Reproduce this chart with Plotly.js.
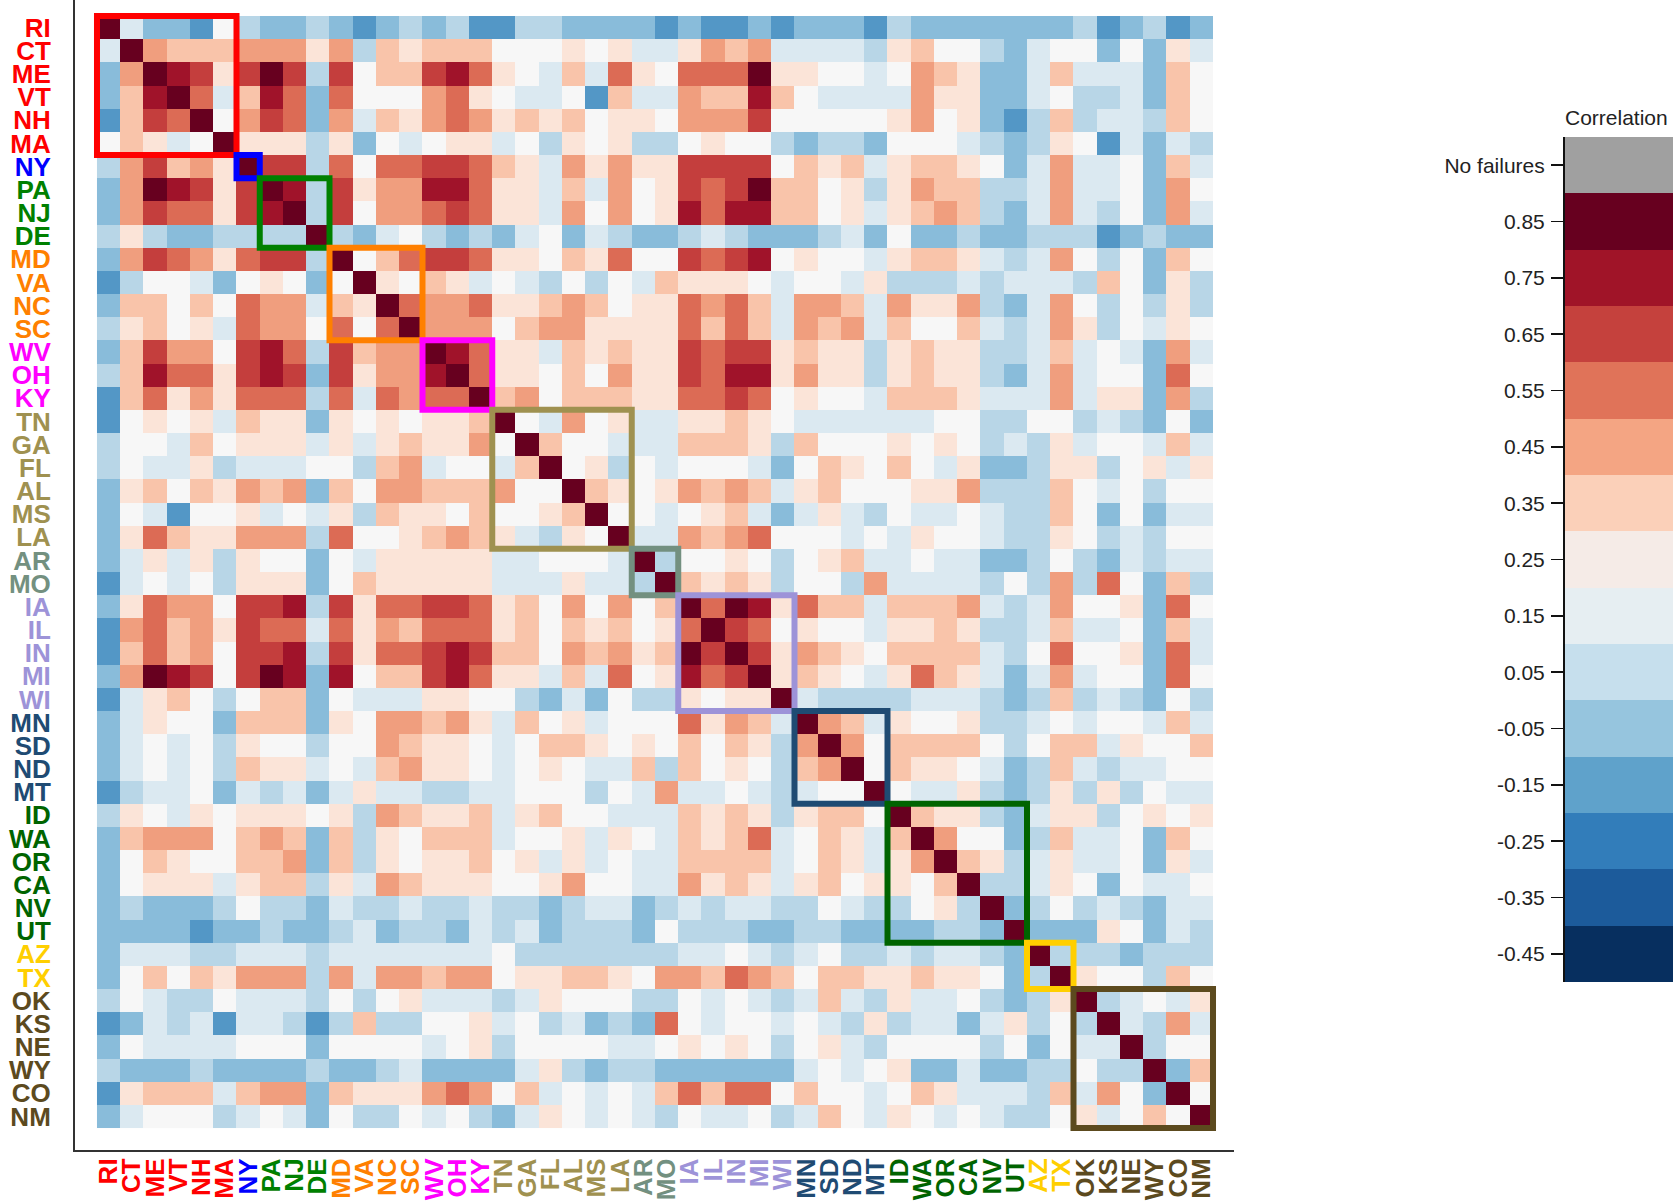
<!DOCTYPE html>
<html><head><meta charset="utf-8">
<script src="https://cdn.plot.ly/plotly-3.0.1.min.js"></script>
<style>html,body{margin:0;padding:0;background:#fff;}#chart{width:1673px;height:1203px;}</style>
</head><body><div id="chart"></div>
<script>
// ---------- DATA ----------
const states = ['RI','CT','ME','VT','NH','MA','NY','PA','NJ','DE','MD','VA','NC','SC','WV','OH','KY',
  'TN','GA','FL','AL','MS','LA','AR','MO','IA','IL','IN','MI','WI','MN','SD','ND','MT',
  'ID','WA','OR','CA','NV','UT','AZ','TX','OK','KS','NE','WY','CO','NM'];
const regionSizes = [6,1,3,4,3,6,2,5,4,6,2,6];

// lower triangle of the correlation matrix (row i: columns 0..i)
const corrLower = [
[0.85],
[0.05,0.85],
[-0.15,0.45,0.85],
[-0.15,0.35,0.75,0.85],
[-0.25,0.35,0.65,0.55,0.85],
[0.15,0.35,0.25,0.05,0.15,0.85],
[-0.05,0.45,0.65,0.35,0.45,0.25,0.85],
[-0.15,0.45,0.85,0.75,0.65,0.25,0.65,0.85],
[-0.15,0.45,0.65,0.55,0.55,0.25,0.65,0.75,0.85],
[-0.05,0.25,-0.05,-0.15,-0.15,-0.05,-0.05,-0.05,-0.05,0.85],
[-0.15,0.45,0.65,0.55,0.45,0.25,0.55,0.65,0.65,-0.05,0.85],
[-0.25,-0.05,0.15,0.15,0.05,-0.15,0.15,0.25,0.15,-0.15,0.15,0.85],
[-0.15,0.35,0.35,0.15,0.35,0.15,0.55,0.45,0.45,0.05,0.35,0.25,0.85],
[-0.05,0.25,0.35,0.15,0.25,0.05,0.55,0.45,0.45,0.15,0.55,0.15,0.55,0.85],
[-0.15,0.35,0.65,0.45,0.45,0.15,0.65,0.75,0.55,-0.05,0.65,0.35,0.45,0.45,0.85],
[-0.05,0.35,0.75,0.55,0.55,0.25,0.65,0.75,0.65,-0.15,0.65,0.25,0.45,0.45,0.75,0.85],
[-0.25,0.35,0.55,0.25,0.45,0.25,0.55,0.55,0.55,-0.05,0.55,0.05,0.55,0.45,0.55,0.55,0.85],
[-0.25,0.15,0.25,0.15,0.25,0.05,0.35,0.25,0.25,-0.15,0.25,0.15,0.25,0.15,0.25,0.25,0.35,0.85],
[-0.05,0.15,0.15,0.05,0.35,0.15,0.25,0.25,0.25,0.05,0.25,0.05,0.25,0.35,0.25,0.25,0.45,0.15,0.85],
[-0.05,0.15,0.05,0.05,0.25,-0.05,0.05,0.05,0.05,0.15,0.15,-0.05,0.35,0.45,0.05,0.15,0.15,0.05,0.35,0.85],
[-0.15,0.25,0.35,0.15,0.35,0.25,0.45,0.35,0.45,-0.15,0.35,0.15,0.45,0.45,0.35,0.35,0.35,0.45,0.15,0.15,0.85],
[-0.15,0.15,0.05,-0.25,0.15,0.15,0.25,0.05,0.15,0.05,0.25,-0.05,0.35,0.25,0.25,0.15,0.35,0.15,0.15,0.25,0.35,0.85],
[-0.15,0.25,0.55,0.35,0.25,0.25,0.45,0.45,0.45,-0.05,0.55,0.15,0.15,0.25,0.35,0.45,0.35,0.25,0.05,-0.05,0.25,0.15,0.85],
[-0.15,0.05,0.25,0.05,0.25,-0.05,0.25,0.15,0.15,-0.15,0.15,0.05,0.25,0.25,0.25,0.25,0.25,0.05,0.05,0.15,0.15,0.15,0.05,0.85],
[-0.25,0.05,0.15,0.05,0.15,-0.05,0.25,0.25,0.25,-0.15,0.15,0.35,0.25,0.25,0.25,0.25,0.25,0.05,0.05,0.05,0.25,0.05,0.05,-0.05,0.85],
[-0.15,0.25,0.55,0.45,0.45,0.15,0.65,0.65,0.75,-0.05,0.65,0.25,0.55,0.55,0.65,0.65,0.55,0.25,0.35,0.15,0.45,0.15,0.45,0.15,0.35,0.85],
[-0.25,0.45,0.55,0.35,0.45,0.25,0.65,0.55,0.55,0.05,0.55,0.25,0.45,0.35,0.55,0.55,0.55,0.25,0.35,0.15,0.35,0.25,0.35,0.15,0.25,0.55,0.85],
[-0.25,0.35,0.55,0.35,0.45,0.15,0.65,0.65,0.75,-0.05,0.65,0.25,0.55,0.55,0.65,0.75,0.65,0.35,0.35,0.15,0.45,0.35,0.45,0.25,0.35,0.85,0.65,0.85],
[-0.15,0.45,0.85,0.75,0.65,0.15,0.65,0.85,0.75,-0.15,0.75,0.15,0.35,0.35,0.65,0.75,0.55,0.25,0.25,0.05,0.35,0.05,0.55,0.15,0.25,0.75,0.55,0.65,0.85],
[-0.25,0.05,0.25,0.35,0.15,-0.05,0.15,0.35,0.35,-0.15,0.15,0.05,0.05,0.05,0.25,0.25,0.15,0.15,-0.05,-0.15,0.05,-0.15,0.15,-0.05,-0.05,0.25,0.15,0.25,0.25,0.85],
[-0.15,0.05,0.25,0.15,0.15,-0.15,0.35,0.35,0.35,-0.15,0.25,0.15,0.45,0.45,0.35,0.45,0.25,0.05,0.35,0.15,0.25,0.05,0.15,0.15,0.15,0.55,0.25,0.45,0.35,0.05,0.85],
[-0.15,0.05,0.15,0.05,0.15,-0.05,0.25,0.15,0.15,-0.05,0.15,0.15,0.45,0.35,0.25,0.25,0.15,0.05,0.15,0.35,0.35,0.25,0.15,0.25,0.15,0.35,0.15,0.35,0.25,-0.05,0.45,0.85],
[-0.15,0.05,0.15,0.05,0.15,-0.05,0.35,0.25,0.25,0.05,0.15,0.05,0.35,0.45,0.25,0.25,0.15,0.05,0.15,0.25,0.15,0.05,0.05,0.35,-0.05,0.35,0.15,0.25,0.15,-0.05,0.35,0.45,0.85],
[-0.25,-0.05,0.05,0.05,0.15,-0.15,0.05,-0.05,0.05,-0.15,0.05,0.25,0.05,0.05,-0.05,-0.05,0.05,0.05,0.15,0.15,0.15,-0.05,0.15,0.05,0.45,0.05,0.05,0.15,0.05,-0.05,0.05,0.15,0.15,0.85],
[-0.05,0.25,0.15,0.05,0.25,0.15,0.25,0.25,0.25,0.15,0.25,-0.05,0.45,0.35,0.25,0.25,0.35,0.05,0.25,0.35,0.15,0.15,0.05,0.05,0.05,0.35,0.25,0.35,0.25,-0.05,0.25,0.35,0.35,0.15,0.85],
[-0.15,0.35,0.45,0.45,0.45,0.15,0.35,0.45,0.35,-0.15,0.35,-0.05,0.25,0.15,0.35,0.35,0.35,0.05,0.15,0.15,0.25,0.05,0.25,0.15,0.05,0.35,0.25,0.35,0.55,0.05,0.15,0.35,0.25,0.05,0.35,0.85],
[-0.15,0.15,0.35,0.25,0.15,0.15,0.35,0.35,0.45,-0.15,0.35,-0.05,0.25,0.15,0.25,0.25,0.35,0.15,0.25,0.05,0.25,0.05,0.15,0.05,0.05,0.35,0.35,0.35,0.35,0.05,0.15,0.35,0.25,0.05,0.25,0.45,0.85],
[-0.15,0.15,0.25,0.25,0.25,0.05,0.25,0.35,0.35,-0.05,0.25,0.05,0.45,0.35,0.25,0.25,0.25,0.15,0.15,0.25,0.45,0.15,0.15,0.05,0.05,0.45,0.25,0.35,0.25,0.05,0.25,0.35,0.15,0.25,0.25,0.15,0.35,0.85],
[-0.15,-0.05,-0.15,-0.15,-0.15,-0.05,0.15,-0.05,-0.05,-0.15,0.05,-0.05,-0.05,0.05,-0.05,-0.05,0.05,-0.05,-0.05,-0.15,-0.05,0.05,0.05,-0.15,-0.05,0.05,-0.05,0.05,0.05,-0.05,-0.05,0.15,0.05,-0.05,-0.05,0.15,0.25,-0.05,0.85],
[-0.15,-0.15,-0.15,-0.15,-0.25,-0.15,-0.15,-0.05,-0.15,-0.15,-0.05,0.05,-0.15,-0.05,-0.05,-0.15,0.05,-0.05,0.05,-0.15,-0.05,-0.05,-0.05,-0.15,0.15,-0.05,-0.05,-0.05,-0.15,-0.15,-0.05,-0.05,-0.15,-0.15,-0.15,-0.15,-0.05,-0.05,-0.15,0.85],
[-0.15,0.05,0.05,0.05,-0.05,-0.05,0.05,0.05,0.05,-0.05,0.05,0.05,0.05,0.05,0.05,0.05,0.05,0.15,-0.05,-0.05,-0.05,-0.05,-0.05,-0.05,-0.05,0.05,0.05,0.15,0.05,-0.05,0.05,0.15,-0.05,-0.05,0.05,-0.05,0.05,0.05,-0.05,-0.15,0.85],
[-0.15,0.15,0.35,0.15,0.35,0.25,0.45,0.45,0.45,-0.05,0.45,0.05,0.45,0.45,0.35,0.45,0.45,0.15,0.25,0.25,0.35,0.35,0.25,0.15,0.45,0.45,0.35,0.55,0.45,0.35,0.15,0.35,0.35,0.25,0.25,0.35,0.25,0.25,0.15,-0.15,-0.05,0.85],
[-0.05,0.15,0.05,-0.05,-0.05,0.15,0.05,0.05,0.05,-0.05,0.15,-0.05,0.15,0.25,0.05,0.05,0.05,-0.05,0.05,0.25,0.15,0.15,0.15,-0.05,-0.05,0.15,0.05,0.15,0.05,-0.05,0.05,0.35,0.05,-0.05,0.25,0.05,0.05,0.15,-0.05,-0.15,-0.05,0.25,0.85],
[-0.25,-0.15,0.05,-0.05,0.05,-0.25,0.05,0.05,-0.05,-0.25,-0.05,0.35,-0.05,-0.05,0.15,0.15,0.25,0.05,0.15,-0.05,0.05,-0.15,-0.05,-0.15,0.55,0.15,0.05,0.15,0.15,0.05,0.15,0.05,-0.05,0.25,-0.05,0.05,0.05,-0.15,0.05,0.25,-0.05,0.15,-0.05,0.85],
[-0.15,0.15,0.05,0.05,0.05,0.05,0.15,0.15,0.15,-0.15,0.15,0.15,0.15,0.15,0.05,0.15,0.25,-0.05,0.15,0.15,0.15,0.15,0.05,0.05,0.15,0.25,0.15,0.25,0.15,-0.05,0.15,0.25,0.05,-0.05,0.15,0.15,0.15,0.15,-0.05,0.15,-0.15,0.15,0.05,0.05,0.85],
[-0.05,-0.15,-0.15,-0.15,-0.05,-0.15,-0.15,-0.15,-0.15,-0.05,-0.15,-0.15,-0.05,0.05,-0.15,-0.15,-0.15,-0.15,0.05,0.25,-0.05,-0.15,-0.05,-0.05,-0.15,-0.15,-0.15,-0.15,-0.15,-0.15,0.05,0.15,0.05,0.15,0.25,-0.15,-0.15,0.05,-0.15,-0.15,-0.05,-0.05,0.15,-0.05,-0.05,0.85],
[-0.25,0.25,0.35,0.35,0.35,0.05,0.35,0.45,0.45,-0.15,0.35,0.25,0.25,0.25,0.45,0.55,0.45,0.15,0.35,0.05,0.15,0.05,0.15,0.05,0.35,0.55,0.35,0.55,0.55,0.15,0.35,0.15,0.15,0.05,0.15,0.35,0.25,0.05,0.05,0.05,-0.05,0.35,0.05,0.45,0.15,-0.15,0.85],
[-0.15,0.05,0.15,0.15,0.15,-0.05,0.05,0.15,0.05,-0.15,0.15,-0.05,-0.05,0.15,0.05,0.15,-0.05,-0.15,0.05,0.25,0.15,0.05,0.15,0.05,-0.05,0.15,0.05,0.05,0.15,-0.05,0.05,0.35,0.15,0.05,0.25,0.15,0.05,0.15,0.05,-0.05,-0.05,0.15,0.25,0.05,0.15,0.35,0.15,0.85]
];

// colour-key bins (bin centres) and their labels
const legendLevels = [-0.45,-0.35,-0.25,-0.15,-0.05,0.05,0.15,0.25,0.35,0.45,0.55,0.65,0.75,0.85,0.95];
const legendLabels = ['-0.45','-0.35','-0.25','-0.15','-0.05','0.05','0.15','0.25','0.35','0.45','0.55','0.65','0.75','0.85','No failures'];

// ---------- STYLE ----------
const regionColors = ['#ff0000','#0000ff','#008000','#ff8000','#ff00ff','#9f9150','#739080','#9d93d8','#1f4b73','#006400','#ffcf00','#5c4a1e'];
const cellColors = ['#053061','#2166ac','#5397c6','#89bcda','#b8d6e7','#dbe9f1','#f7f7f7','#fbe4d8','#f9c4aa','#f09e7e','#dc6b55','#c43e3d','#a0132a','#67001f','#a0a0a0'];
const barColors  = ['#072f5f','#1c5b9b','#327dba','#5fa2cb','#96c5de','#c6dfed','#e6eef2','#f5ebe7','#fbd0b9','#f4a583','#e07359','#c5413d','#a01428','#67001f','#a0a0a0'];
const ZMIN = -0.5, ZMAX = 1.0;

function stepScale(colors){
  const n = colors.length, s = [];
  colors.forEach((c,i)=>{ s.push([i/n,c]); s.push([(i+1)/n,c]); });
  return s;
}

const N = states.length;
const z = [];
for (let i=0;i<N;i++){ z.push([]); for (let j=0;j<N;j++){ z[i].push(j<=i ? corrLower[i][j] : corrLower[j][i]); } }
const idx = states.map((s,i)=>i);

// label colours + boxes from regions
const labelColor = []; const shapes = [];
let start = 0;
regionSizes.forEach((n,r)=>{
  for (let k=0;k<n;k++) labelColor.push(regionColors[r]);
  shapes.push({type:'rect', xref:'x', yref:'y', x0:start-0.5, x1:start+n-0.5, y0:start-0.5, y1:start+n-0.5,
    line:{color:regionColors[r], width:6}, fillcolor:'rgba(0,0,0,0)', layer:'above'});
  start += n;
});
const tickText = states.map((s,i)=>`<span style="color:${labelColor[i]}"><b>${s}</b></span>`);

const W = 1673, H = 1203;
const tickFont = {family:'Liberation Sans, Arial, sans-serif', size:26};

const traces = [
  {type:'heatmap', z:z, x:idx, y:idx, colorscale:stepScale(cellColors), zmin:ZMIN, zmax:ZMAX,
   showscale:false, xaxis:'x', yaxis:'y', hoverinfo:'z'},
  {type:'heatmap', z:legendLevels.map(v=>[v]), x:[0], y:legendLevels.map((v,i)=>i),
   colorscale:stepScale(barColors), zmin:ZMIN, zmax:ZMAX, showscale:false, xaxis:'x2', yaxis:'y2', hoverinfo:'skip'}
];

const layout = {
  width:W, height:H, margin:{l:0,r:0,t:0,b:0}, paper_bgcolor:'#fff', plot_bgcolor:'#fff',
  showlegend:false,
  xaxis:{domain:[75/W, 1234/W], range:[-1.446, 48.403], anchor:'y', tickvals:idx, ticktext:tickText,
    tickangle:-90, ticks:'', showline:true, linecolor:'#333', linewidth:2, showgrid:false, zeroline:false,
    tickfont:tickFont, ticklabelstandoff:-4, fixedrange:true},
  yaxis:{domain:[1-1150/H, 1], range:[48.45, -1.191], anchor:'x', tickvals:idx, ticktext:tickText,
    ticks:'', showline:true, linecolor:'#333', linewidth:2, showgrid:false, zeroline:false,
    tickfont:tickFont, ticklabelstandoff:17, fixedrange:true},
  xaxis2:{domain:[1565/W, 1], range:[-0.5,0.5], anchor:'y2', visible:false, fixedrange:true},
  yaxis2:{domain:[1-982/H, 1-137/H], range:[-0.5,14.5], anchor:'x2', side:'left',
    tickvals:legendLevels.map((v,i)=>i), ticktext:legendLabels, ticks:'outside', ticklen:12, tickwidth:1.5,
    tickcolor:'#111', showline:true, linecolor:'#111', linewidth:2, showgrid:false, zeroline:false,
    tickfont:{family:'Liberation Sans, Arial, sans-serif', size:21, color:'#222'}, ticklabelstandoff:2, fixedrange:true},
  shapes:shapes,
  annotations:[{text:'Correlation', xref:'paper', yref:'paper', x:1563/W, y:1-117/H, xanchor:'left', yanchor:'middle',
    showarrow:false, font:{family:'Liberation Sans, Arial, sans-serif', size:21, color:'#222'}}]
};

Plotly.newPlot('chart', traces, layout, {displayModeBar:false, staticPlot:true});
</script>
</body></html>
